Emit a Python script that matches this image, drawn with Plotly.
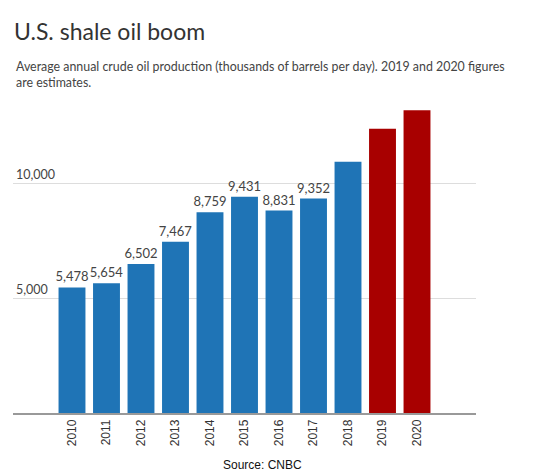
import plotly.graph_objects as go

# Data (thousands of barrels per day)
years = ['2010', '2011', '2012', '2013', '2014', '2015',
         '2016', '2017', '2018', '2019', '2020']
production = [5478, 5654, 6502, 7467, 8759, 9431,
              8831, 9352, 10962, 12400, 13200]
is_estimate = [False] * 9 + [True, True]
labelled = [True] * 8 + [False] * 3

bar_colors = ['#a80000' if est else '#1f74b6' for est in is_estimate]
bar_text = [f'{v:,}' if show else '' for v, show in zip(production, labelled)]

# page body has an 8px margin, so the figure is a bit smaller than the window
W, H = 542, 464
L, R, T, B = 5, 74, 84, 59
pw, ph = W - L - R, H - T - B

fig = go.Figure(go.Bar(
    x=years, y=production,
    marker=dict(color=bar_colors, line=dict(width=0)),
    text=bar_text, textposition='outside', cliponaxis=False,
    constraintext='none',
    textfont=dict(family='Lato', size=13, color='#444444'),
    hoverinfo='x+y',
))

fig.update_layout(
    width=W, height=H,
    margin=dict(l=L, r=R, t=T, b=B),
    paper_bgcolor='white', plot_bgcolor='white',
    bargap=0.22, showlegend=False,
    title=dict(text='U.S. shale oil boom', x=6 / W, xanchor='left',
               y=1 - 24 / H, yanchor='middle',
               font=dict(family='Lato', size=23, color='#333333')),
)

fig.update_xaxes(
    type='category', range=[-1.71, 11.71],
    tickangle=-90, tickfont=dict(family='Liberation Sans', size=12, color='#333333'),
    showline=True, linecolor='#999999', linewidth=1.5,
    ticks='', showgrid=False,
)

fig.update_yaxes(
    range=[0, 14000], tickvals=[5000, 10000], tickformat=',',
    ticklabelposition='inside top',
    tickfont=dict(family='Lato', size=12.5, color='#444444'),
    showgrid=True, gridcolor='#dddddd', gridwidth=1,
    zeroline=False, showline=False, ticks='',
)

fig.add_annotation(
    text='Average annual crude oil production (thousands of barrels per day). 2019 and 2020 figures<br>are estimates.',
    xref='paper', yref='paper', x=1 / pw, y=(T + ph - 49) / ph,
    xanchor='left', yanchor='top', align='left', showarrow=False,
    font=dict(family='Lato', size=12.4, color='#444444'),
)

fig.add_annotation(
    text='Source: CNBC', xref='paper', yref='paper',
    x=(255 - L) / pw, y=(T + ph - 457) / ph,
    xanchor='center', yanchor='middle', showarrow=False,
    font=dict(family='Liberation Sans', size=12, color='#111111'),
)

fig.write_html('out.html')
